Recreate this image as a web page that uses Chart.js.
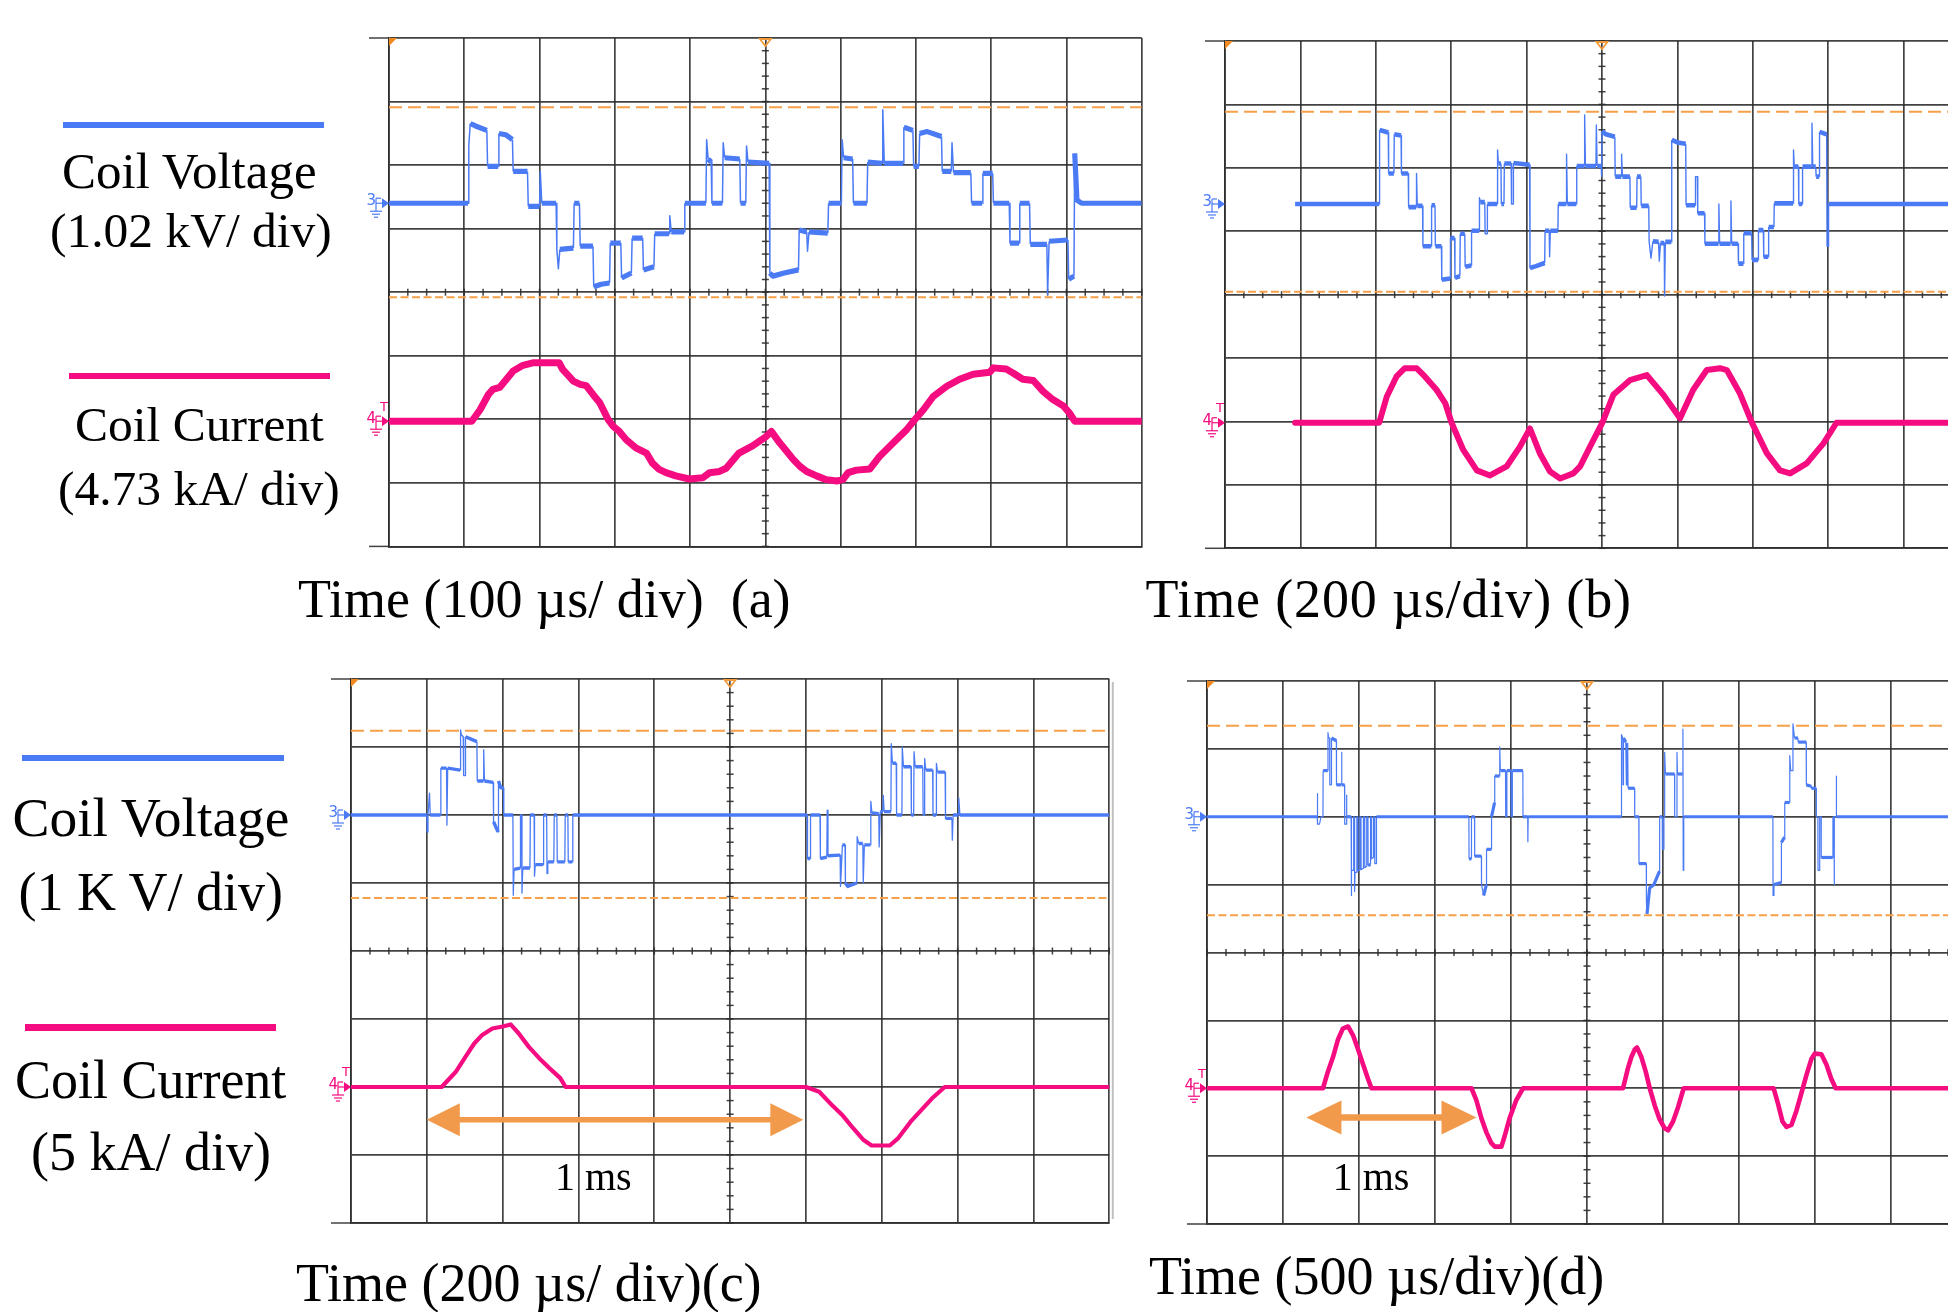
<!DOCTYPE html>
<html><head><meta charset="utf-8">
<script src="https://cdn.jsdelivr.net/npm/chart.js@4.4.1/dist/chart.umd.min.js"></script>
<style>
html,body{margin:0;padding:0;background:#fff;}
body{width:1948px;height:1312px;position:relative;overflow:hidden;}
canvas{position:absolute;}
.t{position:absolute;font-family:'Liberation Serif','Times New Roman',serif;color:#000;line-height:1;white-space:pre;}
.leg{position:absolute;}
</style></head><body>
<script>
// ---------------- DATA (time in µs, voltage in kV, current in kA) ----------------
const aVoltage = [[-500,0],[-395,0],[-394,0.92],[-392,1.28],[-385,1.24],[-370,1.17],[-369,0.59],[-355,0.59],[-354,1.12],[-345,1.10],[-336,1.02],[-335,0.51],[-316,0.51],[-315,-0.05],[-300,-0.05],[-299,0.51],[-297,0],[-278,0],[-277,-0.74],[-275,-1.05],[-273,-0.74],[-255,-0.72],[-254,0],[-247,0],[-246,-0.69],[-229,-0.69],[-228,-1.34],[-218,-1.30],[-207,-1.28],[-206,-0.64],[-192,-0.64],[-191,-1.20],[-178,-1.12],[-177,-0.56],[-163,-0.56],[-162,-1.07],[-148,-1.02],[-147,-0.49],[-128,-0.49],[-127,-0.20],[-125,-0.46],[-108,-0.46],[-107,0],[-79,0],[-78,1.02],[-76,0.71],[-72,0.66],[-71,0],[-57,0],[-56,0.97],[-54,0.73],[-34,0.71],[-33,0],[-26,0],[-25,0.92],[-23,0.66],[5,0.64],[6,-1.12],[10,-1.17],[25,-1.12],[44,-1.07],[45,-0.43],[55,-0.46],[56,-0.77],[58,-0.46],[83,-0.48],[84,0],[101,0],[102,1.02],[104,0.73],[116,0.71],[117,0],[135,0],[136,0.66],[155,0.64],[156,1.50],[158,0.64],[183,0.64],[184,1.22],[196,1.17],[197,0.59],[204,0.59],[205,1.12],[215,1.15],[234,1.07],[235,0.51],[247,0.51],[248,0.97],[250,0.49],[273,0.49],[274,0],[288,0],[289,0.48],[302,0.48],[303,0],[324,0],[325,-0.64],[337,-0.64],[338,0],[351,0],[352,-0.66],[374,-0.66],[375,-1.46],[377,-0.61],[402,-0.59],[403,-1.22],[410,-1.17],[411,0.80],[414,0.05],[420,0],[500,0]];
const aCurrent = [[-500,0],[-390,0],[-379,0.85],[-368,1.99],[-362,2.37],[-353,2.51],[-344,3.12],[-335,3.74],[-322,4.16],[-309,4.35],[-274,4.35],[-269,3.83],[-255,2.98],[-246,2.74],[-238,2.65],[-229,1.99],[-220,1.37],[-209,0.14],[-202,-0.38],[-194,-0.76],[-185,-1.37],[-172,-1.99],[-158,-2.37],[-150,-3.12],[-141,-3.59],[-132,-3.83],[-119,-4.07],[-101,-4.30],[-83,-4.21],[-74,-3.83],[-61,-3.74],[-52,-3.50],[-35,-2.37],[-17,-1.84],[1,-1.14],[8,-0.76],[19,-1.61],[28,-2.22],[37,-2.84],[46,-3.36],[55,-3.74],[68,-4.07],[81,-4.35],[95,-4.45],[103,-4.35],[110,-3.83],[121,-3.64],[139,-3.55],[152,-2.60],[170,-1.61],[188,-0.61],[199,0.14],[210,0.85],[223,1.84],[241,2.60],[258,3.12],[276,3.50],[298,3.64],[303,3.97],[320,3.88],[329,3.59],[342,3.12],[356,3.03],[369,2.22],[382,1.61],[396,1.14],[404,0.61],[411,0],[500,0]];
const aCursors = [1.54, -1.51];

const bVoltage = [[-814,0],[-591,0],[-590,1.19],[-567,1.15],[-566,0.49],[-552,0.49],[-551,1.12],[-533,1.10],[-532,0.49],[-514,0.49],[-513,-0.05],[-493,-0.05],[-492,0.49],[-490,-0.03],[-476,-0.03],[-475,-0.68],[-453,-0.68],[-452,-0.02],[-443,-0.02],[-442,-0.68],[-426,-0.68],[-425,-1.22],[-403,-1.20],[-402,-0.55],[-391,-0.55],[-390,-1.19],[-377,-1.16],[-376,-0.48],[-364,-0.48],[-363,-1.01],[-347,-0.99],[-346,-0.43],[-326,-0.43],[-325,0.10],[-323,0.03],[-311,0.03],[-310,-0.48],[-305,-0.48],[-304,0],[-278,0],[-277,0.87],[-275,0.65],[-268,0.65],[-267,0],[-260,0],[-259,0.65],[-241,0.65],[-240,0],[-236,0],[-235,0.66],[-192,0.63],[-191,-1.03],[-175,-1.00],[-152,-0.95],[-151,-0.43],[-140,-0.43],[-139,-0.85],[-137,-0.43],[-117,-0.43],[-116,0],[-95,0],[-94,0.80],[-92,0],[-68,0],[-67,0.61],[-47,0.61],[-46,1.43],[-44,0.61],[-16,0.61],[-15,1.27],[-13,0.61],[-2,0.61],[-1,0.44],[0,1.17],[10,1.12],[34,1.08],[35,0.44],[51,0.44],[52,0.80],[54,0.44],[74,0.44],[75,-0.06],[92,-0.06],[93,0.44],[103,0.44],[104,-0.03],[124,-0.03],[125,-0.60],[130,-0.87],[135,-0.60],[150,-0.61],[152,-0.92],[155,-0.63],[165,-0.63],[166,-1.48],[168,-0.61],[184,-0.61],[185,1.03],[200,0.99],[222,0.97],[223,-0.02],[247,-0.02],[248,0.44],[253,0.44],[254,-0.15],[272,-0.15],[273,-0.64],[309,-0.64],[310,0],[312,-0.64],[341,-0.64],[342,0.05],[344,-0.64],[361,-0.64],[362,-0.96],[375,-0.96],[376,-0.47],[397,-0.47],[398,-0.90],[414,-0.90],[415,-0.42],[428,-0.42],[429,-0.85],[441,-0.85],[442,-0.37],[456,-0.37],[457,0.01],[507,0.01],[508,0.87],[510,0.60],[521,0.60],[522,0],[531,0],[532,0.60],[556,0.60],[557,1.30],[559,0.60],[567,0.60],[568,0.44],[576,0.44],[577,1.16],[596,1.12],[597,-0.68],[600,-0.68],[601,0],[1000,0]];
const bCurrent = [[-814,0],[-591,0],[-571,1.94],[-545,3.45],[-523,4.07],[-492,4.07],[-470,3.45],[-439,2.46],[-416,1.47],[-399,0],[-368,-2.03],[-332,-3.55],[-297,-3.93],[-253,-3.26],[-218,-1.80],[-191,-0.43],[-165,-2.27],[-138,-3.64],[-111,-4.16],[-76,-3.78],[-58,-3.26],[-32,-1.80],[1,0],[30,2.08],[74,3.17],[119,3.55],[163,2.08],[207,0.33],[242,2.46],[278,3.93],[313,4.07],[331,3.93],[366,2.18],[397,0.05],[437,-2.27],[472,-3.55],[499,-3.78],[543,-3.03],[587,-1.56],[622,0],[1000,0]];
const bCursors = [1.485, -1.41];

const cVoltage = [[-1000,0],[-800,0],[-799,-0.25],[-797,0],[-793,0.32],[-791,0],[-764,0],[-763,0.69],[-748,0.69],[-747,-0.15],[-745,0.69],[-712,0.66],[-711,1.25],[-709,1.18],[-704,1.15],[-703,0.58],[-699,0.58],[-698,1.15],[-685,1.12],[-668,1.08],[-667,0.50],[-651,0.50],[-650,0.96],[-648,0.50],[-625,0.48],[-624,-0.10],[-612,-0.25],[-611,0.50],[-605,0.40],[-598,0.40],[-597,0],[-573,0],[-572,-1.18],[-570,-0.80],[-554,-0.78],[-553,0],[-550,0],[-549,-1.15],[-547,-0.78],[-528,-0.78],[-527,0],[-517,0],[-516,-0.90],[-514,-0.73],[-493,-0.73],[-492,0],[-484,0],[-483,-0.86],[-481,-0.69],[-465,-0.69],[-464,0],[-457,0],[-456,-0.69],[-436,-0.69],[-435,0],[-428,0],[-427,-0.69],[-416,-0.69],[-415,0],[203,0],[204,-0.64],[211,-0.64],[212,0],[237,0],[238,-0.64],[255,-0.62],[256,0.07],[258,-0.60],[290,-0.59],[291,-1.05],[294,-0.70],[296,-0.44],[303,-0.44],[304,-1.00],[310,-1.05],[334,-1.00],[335,-0.32],[339,-0.42],[350,-0.42],[351,-1.00],[354,-0.44],[370,-0.44],[371,0.20],[374,0.03],[392,0.02],[393,-0.47],[396,0.05],[403,0.05],[404,0.29],[406,0.05],[424,0.05],[425,1.05],[428,0.76],[438,0.76],[439,0],[453,0],[454,1.00],[457,0.71],[477,0.71],[478,0],[484,0],[485,0.93],[488,0.71],[508,0.71],[509,0],[512,0],[513,0.83],[516,0.66],[534,0.66],[535,0],[543,0],[544,0.76],[547,0.63],[567,0.63],[568,-0.05],[585,-0.05],[586,-0.37],[588,0],[602,0],[603,0.25],[606,0],[1000,0]];
const cCurrent = [[-1000,0],[-761,0],[-724,1.10],[-696,2.30],[-675,3.20],[-655,3.80],[-627,4.30],[-600,4.45],[-579,4.60],[-558,3.95],[-531,2.95],[-503,2.10],[-475,1.35],[-448,0.65],[-434,0],[200,0],[235,-0.35],[269,-1.35],[297,-2.10],[325,-3.05],[352,-3.90],[373,-4.30],[421,-4.30],[442,-3.80],[476,-2.55],[504,-1.70],[532,-0.85],[566,0],[1000,0]];
const cCursors = [1.24, -1.22];
const cArrow = [-800, 193, -2.4];   // 1 ms marker: start µs, end µs, level kA

const dVoltage = [[-2500,0],[-1775,0],[-1774,0.34],[-1772,-0.11],[-1760,-0.11],[-1750,0],[-1737,0],[-1736,0.68],[-1705,0.68],[-1704,1.24],[-1700,1.16],[-1693,1.16],[-1692,0.47],[-1682,0.47],[-1681,1.16],[-1649,1.12],[-1648,0.47],[-1616,0.47],[-1615,0.95],[-1612,0.47],[-1595,0.47],[-1594,-0.11],[-1583,-0.11],[-1582,0.32],[-1580,0],[-1552,0],[-1551,-1.16],[-1548,-0.79],[-1536,-0.79],[-1535,0],[-1530,0],[-1529,-1.10],[-1526,-0.82],[-1515,-0.82],[-1514,0],[-1508,0],[-1507,-0.80],[-1495,-0.78],[-1494,0],[-1487,0],[-1486,-0.78],[-1472,-0.76],[-1471,0],[-1463,0],[-1462,-0.75],[-1450,-0.73],[-1449,0],[-1441,0],[-1440,-0.72],[-1425,-0.70],[-1424,0],[-1418,0],[-1417,-0.62],[-1405,-0.60],[-1404,0],[-1397,0],[-1396,-0.69],[-1386,-0.69],[-1385,0],[-777,0],[-776,-0.62],[-761,-0.62],[-760,0],[-740,0],[-739,-0.58],[-695,-0.58],[-694,-1.00],[-680,-1.16],[-662,-1.00],[-661,-0.48],[-629,-0.48],[-628,0],[-608,0.21],[-607,0.60],[-575,0.60],[-574,1.03],[-570,0.68],[-536,0.68],[-535,0],[-528,0],[-527,0.68],[-500,0.68],[-499,0],[-492,0],[-491,0.68],[-422,0.68],[-421,0],[-390,0],[-389,-0.37],[-387,0],[226,0],[227,1.21],[236,1.16],[237,0.47],[240,1.16],[255,1.10],[259,0.47],[263,1.08],[268,1.08],[270,0.42],[313,0.42],[314,0],[341,0],[342,-0.69],[390,-0.69],[391,-1.27],[395,-1.43],[412,-1.05],[440,-1.00],[477,-0.80],[478,0],[495,0],[496,-0.48],[505,-0.48],[506,0],[510,0],[511,0.95],[516,0.63],[576,0.63],[577,0],[591,0],[592,0.95],[595,0.63],[630,0.63],[631,1.29],[633,-0.79],[636,-0.79],[637,0],[1223,0],[1224,-1.16],[1230,-1.00],[1278,-0.97],[1279,-0.38],[1300,-0.30],[1301,0.21],[1333,0.21],[1334,0.90],[1340,0.68],[1354,0.68],[1355,1.37],[1365,1.16],[1388,1.16],[1389,1.10],[1442,1.10],[1443,0.47],[1475,0.45],[1476,0.42],[1508,0.42],[1509,0],[1519,0],[1520,-0.79],[1530,-0.79],[1531,0],[1540,0],[1541,-0.60],[1617,-0.60],[1618,0],[1625,0],[1626,-1.00],[1628,0],[1639,0],[1640,0.60],[1642,0],[2500,0]];
const dCurrent = [[-2500,0],[-1737,0],[-1704,1.24],[-1671,2.30],[-1638,3.60],[-1606,4.40],[-1572,4.55],[-1539,3.90],[-1506,2.85],[-1473,1.75],[-1441,0.70],[-1418,0],[-760,0],[-728,-0.87],[-695,-2.20],[-662,-3.25],[-629,-4.05],[-607,-4.30],[-563,-4.30],[-541,-3.50],[-509,-2.20],[-465,-0.87],[-421,0],[237,0],[270,1.50],[292,2.30],[314,2.85],[329,3.00],[358,2.30],[386,1.24],[413,0],[445,-1.25],[478,-2.30],[511,-2.95],[533,-3.10],[566,-2.45],[599,-1.40],[636,0],[1228,0],[1257,-1.15],[1286,-2.45],[1312,-2.85],[1345,-2.70],[1378,-1.65],[1411,-0.35],[1443,0.95],[1476,2.15],[1498,2.55],[1542,2.50],[1575,1.75],[1607,0.70],[1636,0],[2500,0]];
const dCursors = [1.34, -1.45];
const dArrow = [-1846, -727, -2.15];

// scope channel settings (per division) and time bases
const timePerDiv = [100, 200, 200, 500];     // µs/div
const voltPerDiv = [1.02, 1.02, 1, 1];       // kV/div
const currPerDiv = [4.73, 4.73, 5, 5];       // kA/div
const voltZeroDiv = [1.40, 1.43, 2.0, 2.0];  // ground marker position (div above centre)
const currZeroDiv = [-2.03, -2.02, -2.0, -2.0];

// ---------------- STYLE ----------------
const VOLT = '#4b7bf4', CURR = '#f50c80', CURSOR = '#f6a04a', ARROW = '#f29a4c', GRID = 'rgba(45,45,45,0.9)';

const panels = [
  {left:389,  top:38.3, width:752.7, height:508.4, volt:aVoltage, curr:aCurrent, cursors:aCursors, arrow:null,  vW:5.2, vWv:1.5, iW:7.0, k:0, shadow:false},
  {left:1225, top:41,   width:754,   height:507.3, volt:bVoltage, curr:bCurrent, cursors:bCursors, arrow:null,  vW:4.6, vWv:1.4, iW:6.0, k:1, shadow:false},
  {left:350.7,top:679.3,width:758.3, height:544,   volt:cVoltage, curr:cCurrent, cursors:cCursors, arrow:cArrow,vW:3.4, vWv:1.3, iW:4.2, k:2, shadow:true},
  {left:1207.3,top:681, width:760,   height:543,   volt:dVoltage, curr:dCurrent, cursors:dCursors, arrow:dArrow,vW:3.2, vWv:1.2, iW:4.6, k:3, shadow:false}
];

function seg(ctx, x1,y1,x2,y2){ctx.beginPath();ctx.moveTo(x1,y1);ctx.lineTo(x2,y2);ctx.stroke();}

const scopePlugin = {
  id:'scope',
  beforeDatasetsDraw(chart, args, opts){
    const {ctx, chartArea:a, scales:{x,y}} = chart;
    ctx.save();
    ctx.strokeStyle = GRID; ctx.lineWidth = 1.5;
    const cx = x.getPixelForValue((x.min+x.max)/2), cy = y.getPixelForValue(0);
    for (let i=0;i<=40;i++){ const py = y.getPixelForValue(-4+i*0.2); seg(ctx,cx-3.5,py,cx+3.5,py); }
    const st = (x.max-x.min)/40;
    for (let i=0;i<=40;i++){ const px = x.getPixelForValue(x.min+i*st); seg(ctx,px,cy-3.5,px,cy+3.5); }
    seg(ctx,a.left-20,a.top,a.left,a.top);
    seg(ctx,a.left-20,a.bottom,a.left,a.bottom);
    if (opts.shadow){ ctx.strokeStyle='rgba(150,150,150,0.6)'; ctx.lineWidth=2; seg(ctx,a.right+3.5,a.top+3,a.right+3.5,a.bottom-4); }
    ctx.restore();
  },
  afterDatasetsDraw(chart, args, opts){
    const {ctx, chartArea:a, scales:{x,yV,yI}} = chart;
    ctx.save();
    ctx.fillStyle = '#f08a20';
    ctx.beginPath(); ctx.moveTo(a.left,a.top); ctx.lineTo(a.left+8,a.top); ctx.lineTo(a.left,a.top+8); ctx.closePath(); ctx.fill();
    const cx = x.getPixelForValue((x.min+x.max)/2);
    ctx.strokeStyle = '#f39a3a'; ctx.lineWidth = 1.8;
    ctx.beginPath(); ctx.moveTo(cx-5.5,a.top+1); ctx.lineTo(cx+5.5,a.top+1); ctx.lineTo(cx,a.top+8); ctx.closePath(); ctx.stroke();
    const mark = (py, label, color, withT) => {
      ctx.fillStyle = color; ctx.strokeStyle = color; ctx.lineWidth = 1.2;
      ctx.font = '15px "DejaVu Sans"'; ctx.textAlign = 'right'; ctx.textBaseline = 'middle';
      ctx.fillText(label, a.left-13, py-2);
      seg(ctx, a.left-13, py-5, a.left-13, py+8);
      seg(ctx, a.left-13, py-5, a.left-8, py-5);
      seg(ctx, a.left-13, py, a.left-6, py);
      ctx.beginPath(); ctx.moveTo(a.left-7,py-5); ctx.lineTo(a.left,py); ctx.lineTo(a.left-7,py+5); ctx.closePath(); ctx.fill();
      seg(ctx, a.left-19, py+8, a.left-7, py+8);
      seg(ctx, a.left-17, py+11, a.left-9, py+11);
      seg(ctx, a.left-15, py+14, a.left-11, py+14);
      if (withT){ ctx.font = '13px "DejaVu Sans"'; ctx.textAlign='center'; ctx.fillText('T', a.left-5, py-14); }
    };
    mark(yV.getPixelForValue(0), '3', VOLT, false);
    mark(yI.getPixelForValue(0), '4', CURR, true);
    if (opts.arrow){
      const [t0,t1,lev] = opts.arrow;
      const x0 = x.getPixelForValue(t0), x1 = x.getPixelForValue(t1), py = yI.getPixelForValue(lev);
      const hl = opts.k===2 ? 33 : 35, hh = opts.k===2 ? 16.5 : 17;
      ctx.fillStyle = ARROW; ctx.strokeStyle = ARROW; ctx.lineWidth = opts.k===2 ? 5.5 : 6.5;
      seg(ctx, x0+hl-2, py, x1-hl+2, py);
      ctx.beginPath(); ctx.moveTo(x0,py); ctx.lineTo(x0+hl,py-hh); ctx.lineTo(x0+hl,py+hh); ctx.closePath(); ctx.fill();
      ctx.beginPath(); ctx.moveTo(x1,py); ctx.lineTo(x1-hl,py-hh); ctx.lineTo(x1-hl,py+hh); ctx.closePath(); ctx.fill();
    }
    ctx.restore();
  }
};

function makePanel(p){
  const pad = {left:40, right:12, top:12, bottom:12};
  const c = document.createElement('canvas');
  c.width = Math.round(p.width + pad.left + pad.right);
  c.height = Math.round(p.height + pad.top + pad.bottom);
  pad.right = c.width - pad.left - p.width;
  pad.bottom = c.height - pad.top - p.height;
  c.style.left = (p.left - pad.left) + 'px';
  c.style.top = (p.top - pad.top) + 'px';
  document.body.appendChild(c);
  const k = p.k;
  const tMin = -5*timePerDiv[k], tMax = 5*timePerDiv[k];
  const vMin = (-4 - voltZeroDiv[k])*voltPerDiv[k], vMax = (4 - voltZeroDiv[k])*voltPerDiv[k];
  const iMin = (-4 - currZeroDiv[k])*currPerDiv[k], iMax = (4 - currZeroDiv[k])*currPerDiv[k];
  const xy = arr => arr.map(d => ({x:d[0], y:d[1]}));
  const thinDt = 2.2 / (p.width / (tMax - tMin));   // time span that is under ~2 px wide
  const gridOpts = {color:GRID, lineWidth:1.7, drawTicks:false};
  new Chart(c, {
    type:'line',
    data:{datasets:[
      {label:'Coil Current', data:xy(p.curr), yAxisID:'yI', borderColor:CURR, borderWidth:p.iW, order:0,
       borderJoinStyle:'round', borderCapStyle:'round'},
      {label:'Coil Voltage', data:xy(p.volt), yAxisID:'yV', borderColor:VOLT, borderWidth:p.vW, order:1,
       borderJoinStyle:'round', borderCapStyle:'butt',
       segment:{borderWidth: s => (p.volt[s.p1DataIndex][0] - p.volt[s.p0DataIndex][0]) < thinDt ? p.vWv : p.vW}},
      {label:'cursor upper', data:[{x:tMin,y:p.cursors[0]},{x:tMax,y:p.cursors[0]}], yAxisID:'yV',
       borderColor:CURSOR, borderWidth:2, borderDash:[13,6], order:3},
      {label:'cursor lower', data:[{x:tMin,y:p.cursors[1]},{x:tMax,y:p.cursors[1]}], yAxisID:'yV',
       borderColor:CURSOR, borderWidth:2, borderDash:[8,3.5], order:3}
    ]},
    options:{
      responsive:false, animation:false, events:[],
      layout:{padding:pad},
      elements:{point:{radius:0}, line:{tension:0}},
      plugins:{legend:{display:false}, tooltip:{enabled:false}, scope:{arrow:p.arrow, k:k, shadow:p.shadow}},
      scales:{
        x:{type:'linear', position:'bottom', min:tMin, max:tMax, ticks:{display:false, stepSize:timePerDiv[k]}, grid:gridOpts, border:{display:true,color:GRID,width:1.7}},
        y:{type:'linear', position:'left', min:-4, max:4, ticks:{display:false, stepSize:1}, grid:gridOpts, border:{display:true,color:GRID,width:1.7}},
        yV:{type:'linear', display:false, min:vMin, max:vMax},
        yI:{type:'linear', display:false, min:iMin, max:iMax}
      }
    },
    plugins:[scopePlugin]
  });
}
panels.forEach(makePanel);

// ---------------- TEXT & LEGEND SWATCHES ----------------
const labels = [
  ['Coil Voltage', 62, 145.5, 51, 0], ['(1.02 kV/ div)', 50, 205.5, 49.5, 0],
  ['Coil Current', 75, 400.2, 49.5, 0], ['(4.73 kA/ div)', 58, 463.5, 49.5, 0],
  ['Coil Voltage', 12.4, 789.8, 55.5, 0], ['(1 K V/ div)', 18.6, 865.4, 54, 0],
  ['Coil Current', 14.9, 1052.8, 54, 0], ['(5 kA/ div)', 31, 1125, 54, 0],
  ['Time (100 \u00b5s/ div)  (a)', 298, 572.3, 54, 0], ['Time (200 \u00b5s/div) (b)', 1145.4, 572.3, 54, 0.85],
  ['Time (200 \u00b5s/ div)(c)', 296, 1255.5, 54, 0], ['Time (500 \u00b5s/div)(d)', 1149, 1249.3, 54, 0],
  ['1 ms', 555, 1156.5, 40, 0], ['1 ms', 1332.7, 1157, 40, 0]
];
labels.forEach(([s,x,y,f,ls]) => {
  const d = document.createElement('div'); d.className='t'; d.textContent = s;
  d.style.left = x+'px'; d.style.top = y+'px'; d.style.fontSize = f+'px';
  if (ls) d.style.letterSpacing = ls+'px';
  document.body.appendChild(d);
});
const swatches = [[63,121.7,261,6,VOLT],[69,372.7,261,6.6,CURR],[22,754.5,262,6.6,VOLT],[25,1024,251,6.6,CURR]];
swatches.forEach(([x,y,w,h,c]) => {
  const d = document.createElement('div'); d.className='leg';
  d.style.left=x+'px'; d.style.top=y+'px'; d.style.width=w+'px'; d.style.height=h+'px'; d.style.background=c;
  document.body.appendChild(d);
});
</script>
</body></html>
